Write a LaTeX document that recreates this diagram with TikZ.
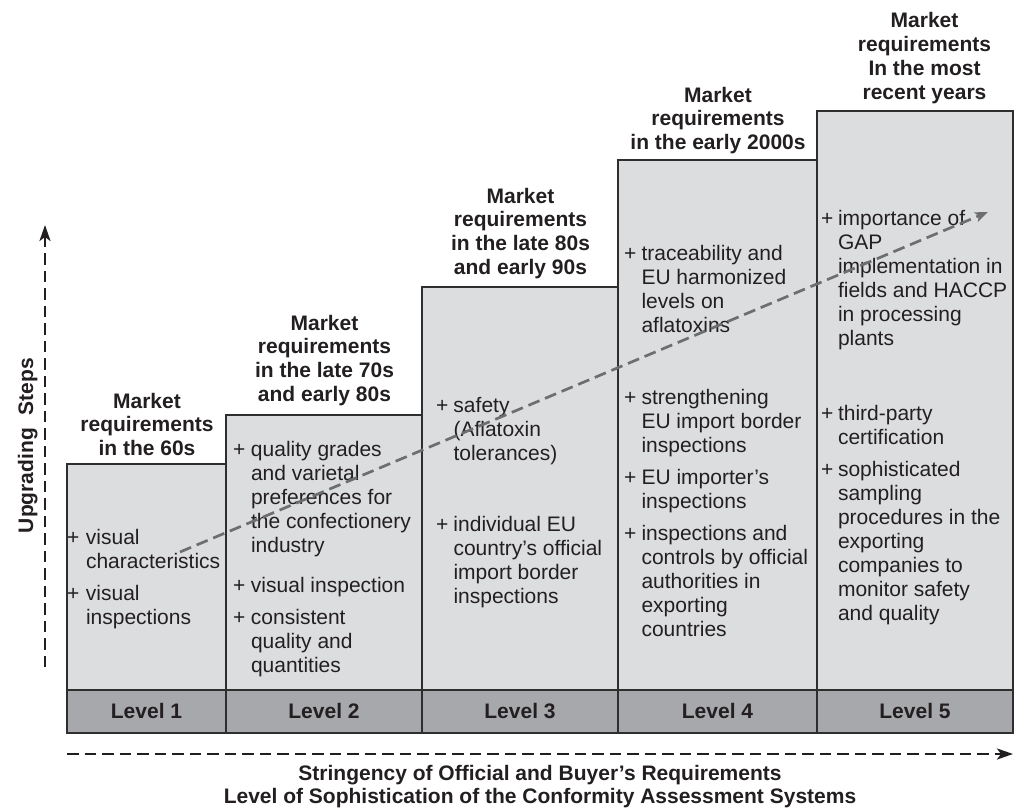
\documentclass[tikz,border=0pt]{standalone}
\usepackage{fontspec}
\setmainfont{Liberation Sans}
\usetikzlibrary{arrows.meta}
\definecolor{txt}{HTML}{231F20}
\definecolor{bodyfill}{HTML}{DCDDDF}
\definecolor{barfill}{HTML}{A6A8AB}
\definecolor{edge}{HTML}{2E2E2E}
\definecolor{diag}{HTML}{6D6E71}
\newcommand\plusitem[2][17.5pt]{\makebox[#1][l]{+}\begin{tabular}[t]{@{}l@{}}#2\end{tabular}}
\newcommand\headlines[1]{\begin{tabular}[t]{@{}c@{}}#1\end{tabular}}
\begin{document}
\begin{tikzpicture}[x=1pt,y=-1pt,
  every node/.style={text=txt, inner sep=0pt, outer sep=0pt},
  colbox/.style={fill=bodyfill, draw=edge, line width=1.3pt},
  levbox/.style={fill=barfill, draw=edge, line width=1.3pt},
  headtext/.style={font=\fontsize{21}{23.7}\selectfont\bfseries, anchor=base},
  itemtext/.style={font=\fontsize{21}{24}\selectfont, anchor=base west},
  leveltext/.style={font=\fontsize{21}{24}\selectfont\bfseries, anchor=base},
  axisarrow/.style={draw=txt, line width=2.6pt, dash pattern=on 11.5pt off 6pt,
    -{Stealth[length=16pt,width=11pt,inset=4pt]}},
  trendarrow/.style={draw=diag, line width=2.7pt, dash pattern=on 12pt off 6pt,
    -{Stealth[length=13pt,width=10pt,inset=3pt]}}
]
\useasboundingbox (0,0) rectangle (1014,808);

% columns
\draw[colbox] (67,464) rectangle (226,690);
\draw[colbox] (226,415) rectangle (422,690);
\draw[colbox] (422,287) rectangle (618,690);
\draw[colbox] (618,160) rectangle (817,690);
\draw[colbox] (817,111) rectangle (1013,690);
% level bar
\draw[levbox] (67,690) rectangle (226,733);
\draw[levbox] (226,690) rectangle (422,733);
\draw[levbox] (422,690) rectangle (618,733);
\draw[levbox] (618,690) rectangle (817,733);
\draw[levbox] (817,690) rectangle (1013,733);

\node[leveltext] (lv1) at (146.5,718) {Level 1};
\node[leveltext] (lv2) at (324,718) {Level 2};
\node[leveltext] (lv3) at (520,718) {Level 3};
\node[leveltext] (lv4) at (717.5,718) {Level 4};
\node[leveltext] (lv5) at (915,718) {Level 5};

% headings
\node[headtext] (h1) at (147,408) {\headlines{Market\\requirements\\in the 60s}};
\node[headtext] (h2) at (324.5,330) {\headlines{Market\\requirements\\in the late 70s\\and early 80s}};
\node[headtext] (h3) at (520.5,203) {\headlines{Market\\requirements\\in the late 80s\\and early 90s}};
\node[headtext] (h4) at (718,102) {\headlines{Market\\requirements\\in the early 2000s}};
\node[headtext] (h5) at (924.5,28) {\headlines{Market\\requirements\\In the most\\recent years}};

% column 1
\node[itemtext] (c1a) at (67,544) {\plusitem[19pt]{visual\\characteristics}};
\node[itemtext] (c1b) at (67,600) {\plusitem[19pt]{visual\\inspections}};
% column 2
\node[itemtext] (c2a) at (233,456) {\plusitem[18pt]{quality grades\\and varietal\\preferences for\\the confectionery\\industry}};
\node[itemtext] (c2b) at (233,592) {\plusitem[18pt]{visual inspection}};
\node[itemtext] (c2c) at (233,624) {\plusitem[18pt]{consistent\\quality and\\quantities}};
% column 3
\node[itemtext] (c3a) at (436,412) {\plusitem{safety\\(Aflatoxin\\tolerances)}};
\node[itemtext] (c3b) at (436,531) {\plusitem{individual EU\\country’s official\\import border\\inspections}};
% column 4
\node[itemtext] (c4a) at (624,260) {\plusitem{traceability and\\EU harmonized\\levels on\\aflatoxins}};
\node[itemtext] (c4b) at (624,404) {\plusitem{strengthening\\EU import border\\inspections}};
\node[itemtext] (c4c) at (624,484) {\plusitem{EU importer’s\\inspections}};
\node[itemtext] (c4d) at (624,540) {\plusitem{inspections and\\controls by official\\authorities in\\exporting\\countries}};
% column 5
\node[itemtext] (c5a) at (821,225) {\plusitem[17pt]{importance of\\GAP\\implementation in\\fields and HACCP\\in processing\\plants}};
\node[itemtext] (c5b) at (821,420) {\plusitem[17pt]{third-party\\certification}};
\node[itemtext] (c5c) at (821,476) {\plusitem[17pt]{sophisticated\\sampling\\procedures in the\\exporting\\companies to\\monitor safety\\and quality}};

% axes
\coordinate (vstart) at (45,667);
\coordinate (vend) at (45,225);
\draw[axisarrow] (vstart) -- (vend);
\node[font=\fontsize{21}{24}\selectfont\bfseries, rotate=90, anchor=base] (ylab) at (33,445.5) {Upgrading\hspace{0.62em}Steps};

\coordinate (hstart) at (67,754);
\coordinate (hend) at (1013,754);
\draw[axisarrow] (hstart) -- (hend);
\node[font=\fontsize{21}{23}\selectfont\bfseries, anchor=base] (xlab) at (540,780) {\headlines{Stringency of Official and Buyer’s Requirements\\Level of Sophistication of the Conformity Assessment Systems}};

% trend
\coordinate (tstart) at (180,552);
\coordinate (tend) at (988,212);
\draw[trendarrow] (tstart) -- (tend);
\end{tikzpicture}
\end{document}
